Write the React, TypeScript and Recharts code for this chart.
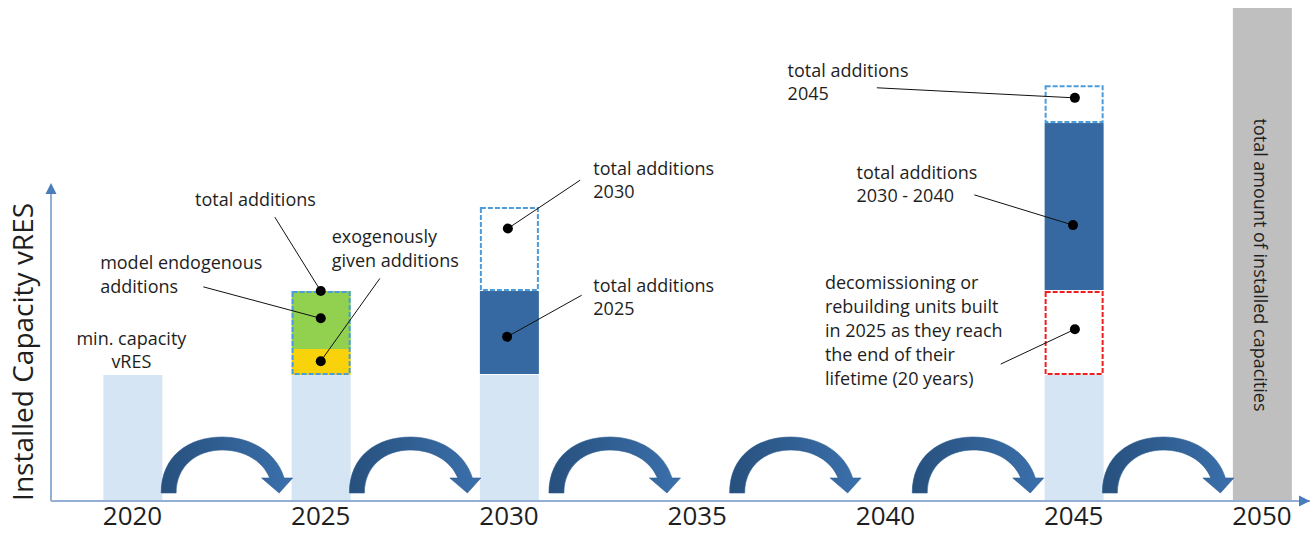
import React from "react";
import { ComposedChart, Bar, XAxis, YAxis, ReferenceLine, ReferenceDot } from "recharts";

// years on the time axis
const years = [2020, 2025, 2030, 2035, 2040, 2045, 2050];

// stacked segments (capacity units, one value per year)
const minCapacity = [3, 3, 3, 0, 0, 3, 0];
const exogenous = [0, 0.62, 0, 0, 0, 0, 0];
const endogenous = [0, 1.38, 0, 0, 0, 0, 0];
const retired = [0, 0, 0, 0, 0, 2, 0];
const earlierAdditions = [0, 0, 2, 0, 0, 4, 0];
const newAdditions = [0, 0, 2, 0, 0, 0.9, 0];
const totalInstalled = [0, 0, 0, 0, 0, 0, 11.74];

// the curved "carry over" arrows sit between the periods
const transitionYears = [2022.5, 2027.5, 2032.8, 2037.6, 2042.45, 2047.5];

const data = years.map((year, i) => ({
  year,
  minCapacity: minCapacity[i],
  exogenous: exogenous[i],
  endogenous: endogenous[i],
  retired: retired[i],
  earlierAdditions: earlierAdditions[i],
  newAdditions: newAdditions[i],
  totalInstalled: totalInstalled[i]
}));

// callouts: text anchor, end of leader line, dot (data coordinates)
const annotations = [
  { lines: ["total additions"], text: [2021.66, 7.17], line: [2023.78, 6.76], dot: [2025, 5.0] },
  { lines: ["model endogenous", "additions"], text: [2019.14, 5.67], line: [2021.88, 5.1], dot: [2025, 4.35] },
  { lines: ["exogenously", "given additions"], text: [2025.29, 6.29], line: [2026.57, 5.3], dot: [2025, 3.33] },
  { lines: ["total additions", "2030"], text: [2032.24, 7.92], line: [2031.89, 7.64], dot: [2029.97, 6.49] },
  { lines: ["total additions", "2025"], text: [2032.24, 5.14], line: [2031.93, 4.9], dot: [2029.95, 3.91] },
  { lines: ["total additions", "2045"], text: [2037.4, 10.26], line: [2039.77, 9.84], dot: [2045.03, 9.6] },
  { lines: ["total additions", "2030 - 2040"], text: [2039.23, 7.83], line: [2042.36, 7.29], dot: [2044.98, 6.57] },
  {
    lines: ["decomissioning or", "rebuilding units built", "in 2025 as they reach", "the end of their", "lifetime (20 years)"],
    text: [2038.39, 5.2],
    line: [2043.06, 3.26],
    dot: [2045.03, 4.09]
  }
];

const X_DOMAIN: [number, number] = [2017.835, 2051.275];
const Y_MAX = 11.74;
const FONT = "'Open Sans', 'Noto Sans', sans-serif";
const TEXT = "#1e1e1e";
const AXIS = "#93AFD6";
const ARROW = "#4A7DBB";

const TextBlock = ({ cx, cy, lines, anchor = "start", size = 18, lh = 23.5, rotate = 0 }: any) => (
  <text
    x={cx}
    y={cy + size * 0.36}
    fontSize={size}
    fontFamily={FONT}
    fill={TEXT}
    textAnchor={anchor}
    transform={rotate ? `rotate(${rotate} ${cx} ${cy})` : undefined}
  >
    {lines.map((l: string, i: number) => (
      <tspan key={i} x={cx} dy={i === 0 ? 0 : lh}>
        {l}
      </tspan>
    ))}
  </text>
);

const CurvedArrow = ({ cx, cy, idx }: any) => {
  const p = (dx: number, dy: number) => `${cx + dx} ${cy + dy}`;
  const d =
    `M ${p(-65.5, -8)} C ${p(-65.5, -45)}, ${p(-38, -64)}, ${p(-4.5, -64)} ` +
    `C ${p(25, -64)}, ${p(50, -48)}, ${p(57.5, -23)} L ${p(66, -23)} L ${p(52.5, -8)} L ${p(35, -23)} L ${p(43, -23)} ` +
    `C ${p(36, -40)}, ${p(18, -51)}, ${p(-4.5, -51)} C ${p(-30, -51)}, ${p(-50.5, -35)}, ${p(-50.5, -8)} Z`;
  const id = `arrowGrad${idx}`;
  return (
    <g>
      <defs>
        <linearGradient id={id} x1="0" y1="0" x2="1" y2="0">
          <stop offset="0%" stopColor="#27507D" />
          <stop offset="100%" stopColor="#3B70AC" />
        </linearGradient>
      </defs>
      <path d={d} fill={`url(#${id})`} stroke="#2E5D92" strokeWidth={0.6} />
    </g>
  );
};

const DashedBox = (color: string) => (props: any) => {
  const { x, y, width, height } = props;
  if (!height || height <= 0) return null;
  return (
    <rect x={x + 1} y={y + 1} width={width - 2} height={height - 2} fill="#fff" stroke={color} strokeWidth={2} strokeDasharray="5 2" />
  );
};

const EndogenousShape = (props: any) => {
  const { x, y, width, height, payload } = props;
  if (!height || height <= 0) return null;
  const full = (height * (payload.endogenous + payload.exogenous)) / payload.endogenous;
  return (
    <g>
      <rect x={x} y={y} width={width} height={height} fill="#92D050" />
      <rect x={x + 1} y={y + 1} width={width - 2} height={full - 2} fill="none" stroke="#4B9CDB" strokeWidth={2} strokeDasharray="5 2" />
    </g>
  );
};

const EarlierShape = (props: any) => {
  const { x, y, width, height } = props;
  if (!height || height <= 0) return null;
  return <rect x={x} y={y} width={width} height={height - 1} fill="#3669A1" />;
};

export default function App() {
  return (
    <div style={{ position: "absolute", left: 0, top: 0, background: "#fff" }}>
      <ComposedChart width={1314} height={533} data={data} margin={{ top: 8, right: 4, bottom: 2, left: 51 }}>
        <XAxis
          dataKey="year"
          type="number"
          domain={X_DOMAIN}
          allowDataOverflow
          ticks={years}
          interval={0}
          tickLine={false}
          tickSize={4}
          tickMargin={2}
          height={30}
          axisLine={{ stroke: AXIS, strokeWidth: 2 }}
          tick={{ fontSize: 26, fill: TEXT, fontFamily: FONT }}
        />
        <YAxis type="number" domain={[0, Y_MAX]} allowDataOverflow hide />

        <Bar dataKey="minCapacity" stackId="a" barSize={59} fill="#D6E5F4" isAnimationActive={false} />
        <Bar dataKey="exogenous" stackId="a" barSize={59} fill="#F8D20A" isAnimationActive={false} />
        <Bar dataKey="endogenous" stackId="a" barSize={59} shape={EndogenousShape} isAnimationActive={false} />
        <Bar dataKey="retired" stackId="a" barSize={59} shape={DashedBox("#F01E1E")} isAnimationActive={false} />
        <Bar dataKey="earlierAdditions" stackId="a" barSize={59} shape={EarlierShape} isAnimationActive={false} />
        <Bar dataKey="newAdditions" stackId="a" barSize={59} shape={DashedBox("#4B9CDB")} isAnimationActive={false} />
        <Bar dataKey="totalInstalled" stackId="a" barSize={59} fill="#BFBFBF" isAnimationActive={false} />

        {/* y axis with arrow head */}
        <ReferenceLine
          segment={[{ x: X_DOMAIN[0], y: 0 }, { x: X_DOMAIN[0], y: 7.35 }]}
          stroke={AXIS}
          strokeWidth={2}
          ifOverflow="visible"
        />
        <ReferenceDot
          x={X_DOMAIN[0]}
          y={7.57}
          ifOverflow="visible"
          shape={(p: any) => (
            <path d={`M ${p.cx} ${p.cy} L ${p.cx + 5.5} ${p.cy + 11} L ${p.cx - 5.5} ${p.cy + 11} Z`} fill={ARROW} />
          )}
        />
        {/* x axis arrow head */}
        <ReferenceDot
          x={X_DOMAIN[1]}
          y={0}
          ifOverflow="visible"
          shape={(p: any) => (
            <path d={`M ${p.cx} ${p.cy} L ${p.cx - 11} ${p.cy - 5.5} L ${p.cx - 11} ${p.cy + 5.5} Z`} fill={ARROW} />
          )}
        />
        {/* y axis title */}
        <ReferenceDot
          x={2017.09}
          y={3.55}
          ifOverflow="visible"
          shape={(p: any) => <TextBlock cx={p.cx} cy={p.cy} lines={["Installed Capacity vRES"]} anchor="middle" size={28} rotate={-90} />}
        />

        {transitionYears.map((t, i) => (
          <ReferenceDot key={`arc-${t}`} x={t} y={0} ifOverflow="visible" shape={(p: any) => <CurvedArrow cx={p.cx} cy={p.cy} idx={i} />} />
        ))}

        {/* label above the 2020 bar */}
        <ReferenceDot
          x={2019.97}
          y={3.88}
          ifOverflow="visible"
          shape={(p: any) => <TextBlock cx={p.cx} cy={p.cy} lines={["min. capacity", "vRES"]} anchor="middle" />}
        />
        {/* vertical label inside the 2050 bar */}
        <ReferenceDot
          x={2049.97}
          y={5.62}
          ifOverflow="visible"
          shape={(p: any) => (
            <TextBlock cx={p.cx} cy={p.cy} lines={["total amount of installed capacities"]} anchor="middle" size={18} rotate={90} />
          )}
        />

        {annotations.map((a, i) => (
          <ReferenceLine
            key={`lead-${i}`}
            segment={[{ x: a.line[0], y: a.line[1] }, { x: a.dot[0], y: a.dot[1] }]}
            stroke="#111"
            strokeWidth={1}
            ifOverflow="visible"
          />
        ))}
        {annotations.map((a, i) => (
          <ReferenceDot key={`dot-${i}`} x={a.dot[0]} y={a.dot[1]} r={5} fill="#000" stroke="none" ifOverflow="visible" />
        ))}
        {annotations.map((a, i) => (
          <ReferenceDot
            key={`txt-${i}`}
            x={a.text[0]}
            y={a.text[1]}
            ifOverflow="visible"
            shape={(p: any) => <TextBlock cx={p.cx} cy={p.cy} lines={a.lines} lh={i === 7 ? 24 : 23.5} />}
          />
        ))}
      </ComposedChart>
    </div>
  );
}
